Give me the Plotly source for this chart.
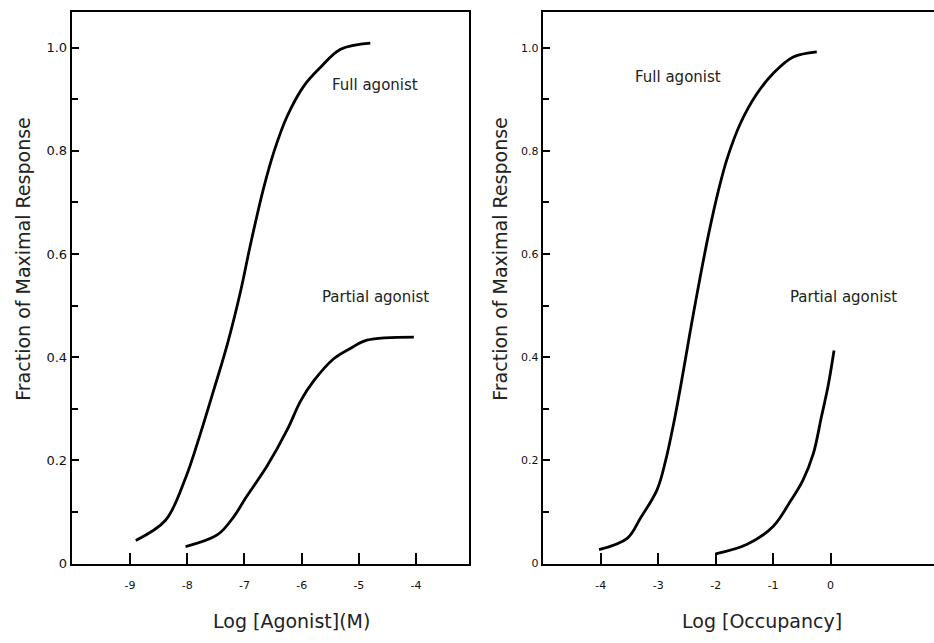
import plotly.graph_objects as go

# Dose-response curves: response vs log agonist concentration
agonist_full_x = [-8.90, -8.38, -8.03, -7.77, -7.53, -7.30, -7.07, -6.89, -6.66, -6.48, -6.25, -5.96, -5.67, -5.32, -4.80]
agonist_full_y = [0.045, 0.084, 0.166, 0.252, 0.339, 0.425, 0.527, 0.621, 0.730, 0.800, 0.868, 0.926, 0.962, 0.997, 1.009]
agonist_partial_x = [-8.03, -7.47, -7.18, -6.98, -6.60, -6.25, -6.02, -5.79, -5.44, -5.15, -4.86, -4.04]
agonist_partial_y = [0.033, 0.056, 0.092, 0.127, 0.190, 0.260, 0.315, 0.354, 0.397, 0.417, 0.433, 0.439]

# Response vs log receptor occupancy
occ_full_x = [-4.03, -3.54, -3.31, -3.02, -2.87, -2.73, -2.58, -2.44, -2.27, -2.12, -1.95, -1.80, -1.57, -1.28, -1.00, -0.65, -0.24]
occ_full_y = [0.027, 0.049, 0.088, 0.143, 0.200, 0.272, 0.362, 0.452, 0.555, 0.640, 0.724, 0.785, 0.853, 0.911, 0.950, 0.982, 0.992]
occ_partial_x = [-2.00, -1.46, -1.00, -0.71, -0.48, -0.30, -0.16, -0.04, 0.06]
occ_partial_y = [0.019, 0.037, 0.072, 0.119, 0.162, 0.213, 0.284, 0.346, 0.413]

y_tickvals = [0, 0.2, 0.4, 0.6, 0.8, 1.0]
y_ticktext = ["0", "0.2", "0.4", "0.6", "0.8", "1.0"]
agonist_tickvals = [-9, -8, -7, -6, -5, -4]
agonist_ticktext = ["-9", "-8", "-7", "-6", "-5", "-4"]
occ_tickvals = [-4, -3, -2, -1, 0]
occ_ticktext = ["-4", "-3", "-2", "-1", "0"]

W, H = 934, 643
FONT = "DejaVu Sans"
TXT = "#222222"

fig = go.Figure()
line = dict(color="black", width=2.8, shape="spline", smoothing=1.0)
fig.add_trace(go.Scatter(x=agonist_full_x, y=agonist_full_y, mode="lines", line=line, xaxis="x", yaxis="y"))
fig.add_trace(go.Scatter(x=agonist_partial_x, y=agonist_partial_y, mode="lines", line=line, xaxis="x", yaxis="y"))
fig.add_trace(go.Scatter(x=occ_full_x, y=occ_full_y, mode="lines", line=line, xaxis="x2", yaxis="y2"))
fig.add_trace(go.Scatter(x=occ_partial_x, y=occ_partial_y, mode="lines", line=line, xaxis="x2", yaxis="y2"))

y_dom = [(H - 570.7) / H, (H - 11.7) / H]

def xaxis(domain, rng, vals, text):
    return dict(domain=domain, range=rng, tickvals=vals, ticktext=text,
                showline=True, linecolor="black", linewidth=2, mirror=True,
                ticks="inside", ticklen=11, tickwidth=2, tickcolor="black",
                showgrid=False, zeroline=False, ticklabelstandoff=10,
                tickfont=dict(family=FONT, size=11, color="#111111"), fixedrange=True)

def yaxis(anchor, mirror, size):
    return dict(domain=y_dom, range=[0, 1.07], anchor=anchor,
                tickvals=y_tickvals, ticktext=y_ticktext,
                showline=True, linecolor="black", linewidth=2, mirror=mirror,
                ticks="inside", ticklen=7, tickwidth=2, tickcolor="black",
                minor=dict(dtick=0.1, tick0=0, ticks="inside", ticklen=6, tickwidth=1.5, tickcolor="black"),
                showgrid=False, zeroline=False,
                tickfont=dict(family=FONT, size=size, color="#111111"), fixedrange=True)

fig.update_layout(
    width=W, height=H, margin=dict(l=0, r=0, t=0, b=0),
    paper_bgcolor="white", plot_bgcolor="white", showlegend=False,
    xaxis=dict(**xaxis([71.7 / W, 469.3 / W], [-10.02, -3.07], agonist_tickvals, agonist_ticktext), anchor="y"),
    yaxis=yaxis("x", True, 13),
    xaxis2=dict(**xaxis([542.7 / W, 1.0], [-5.01, 1.80], occ_tickvals, occ_ticktext), anchor="y2"),
    yaxis2=yaxis("x2", False, 11),
)

def label(text, x, y, xref, yref, size):
    fig.add_annotation(text=text, x=x, y=y, xref=xref, yref=yref, showarrow=False,
                       xanchor="center", yanchor="middle",
                       font=dict(family=FONT, size=size, color=TXT))

label("Full agonist", -4.72, 0.928, "x", "y", 15)
label("Partial agonist", -4.71, 0.516, "x", "y", 15)
label("Full agonist", -2.65, 0.944, "x2", "y2", 15)
label("Partial agonist", 0.22, 0.517, "x2", "y2", 15)

label("Log [Agonist](M)", 291 / W, (H - 629) / H, "paper", "paper", 19)
label("Log [Occupancy]", 761.7 / W, (H - 629) / H, "paper", "paper", 19)
for xc in (23, 500):
    fig.add_annotation(text="Fraction of Maximal Response", x=xc / W, y=(H - 262) / H,
                       xref="paper", yref="paper", showarrow=False, textangle=-90,
                       xanchor="center", yanchor="middle",
                       font=dict(family=FONT, size=19, color=TXT))

fig.write_html("out.html", config={"displayModeBar": False})
